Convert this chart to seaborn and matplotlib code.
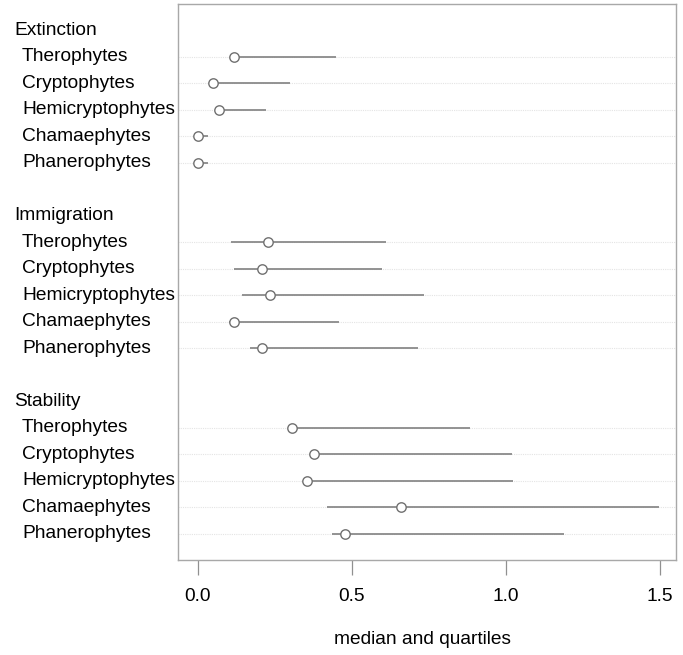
import matplotlib
matplotlib.use("Agg")
import matplotlib.pyplot as plt
import matplotlib.transforms as mtransforms
import seaborn as sns
import pandas as pd

groups = ["Extinction", "Immigration", "Stability"]
lifeforms = ["Therophytes", "Cryptophytes", "Hemicryptophytes", "Chamaephytes", "Phanerophytes"]

ext_median = [0.119, 0.049, 0.069, 0.000, 0.000]
ext_lower = [0.110, 0.045, 0.065, 0.000, 0.000]
ext_upper = [0.449, 0.300, 0.221, 0.035, 0.035]

imm_median = [0.229, 0.210, 0.234, 0.119, 0.210]
imm_lower = [0.109, 0.119, 0.145, 0.100, 0.170]
imm_upper = [0.610, 0.599, 0.735, 0.460, 0.715]

stab_median = [0.305, 0.379, 0.354, 0.659, 0.479]
stab_lower = [0.300, 0.375, 0.350, 0.420, 0.435]
stab_upper = [0.885, 1.019, 1.025, 1.497, 1.190]

xticks = [0.0, 0.5, 1.0, 1.5]
xtick_labels = ["0.0", "0.5", "1.0", "1.5"]
xlabel = "median and quartiles"

medians = [ext_median, imm_median, stab_median]
lowers = [ext_lower, imm_lower, stab_lower]
uppers = [ext_upper, imm_upper, stab_upper]

rows = []
for g, grp in enumerate(groups):
    for i, lf in enumerate(lifeforms):
        rows.append(dict(group=grp, lifeform=lf, pos=g * 7 + 1 + i,
                         median=medians[g][i], lower=lowers[g][i], upper=uppers[g][i]))
df = pd.DataFrame(rows)

sns.set_theme(style="white")
plt.rcParams["font.family"] = ["Liberation Sans", "DejaVu Sans"]

W, H = 683, 655
FS = 13.8
fig = plt.figure(figsize=(W / 100, H / 100), dpi=100)
ax = fig.add_axes([178.3 / W, 1 - 560 / H, (676 - 178.3) / W, (560 - 4) / H])

# light row guide lines
for p in df["pos"]:
    ax.axhline(p, color="#e4e4e4", lw=0.8, ls=(0, (1, 1)), zorder=1)

ax.hlines(df["pos"], df["lower"], df["upper"], color="#8a8a8a", lw=1.3, zorder=2)
sns.scatterplot(data=df, x="median", y="pos", ax=ax, marker="o", s=46,
                facecolor="white", edgecolor="#707070", linewidth=1.0, zorder=3, legend=False)

ax.set_xlim(-0.063, 1.553)
ax.set_ylim(20, -1)
ax.set_yticks([])
ax.set_ylabel("")
ax.set_xlabel("")
ax.set_xticks(xticks)
ax.set_xticklabels(xtick_labels, fontsize=FS)
ax.tick_params(axis="x", bottom=True, length=11, width=0.9, color="#909090", pad=9, labelcolor="black")

for s in ax.spines.values():
    s.set_color("#a8a8a8")
    s.set_linewidth(1.0)

trans = mtransforms.blended_transform_factory(fig.transFigure, ax.transData)
for g, grp in enumerate(groups):
    ax.text(14 / W, g * 7, grp, transform=trans, ha="left", va="center", fontsize=FS, color="black")
    for i, lf in enumerate(lifeforms):
        ax.text(22 / W, g * 7 + 1 + i, lf, transform=trans, ha="left", va="center",
                fontsize=FS, color="black")

fig.text(422 / W, 1 - 640 / H, xlabel, ha="center", va="center", fontsize=FS, color="black")

fig.savefig("out.png", dpi=100)
